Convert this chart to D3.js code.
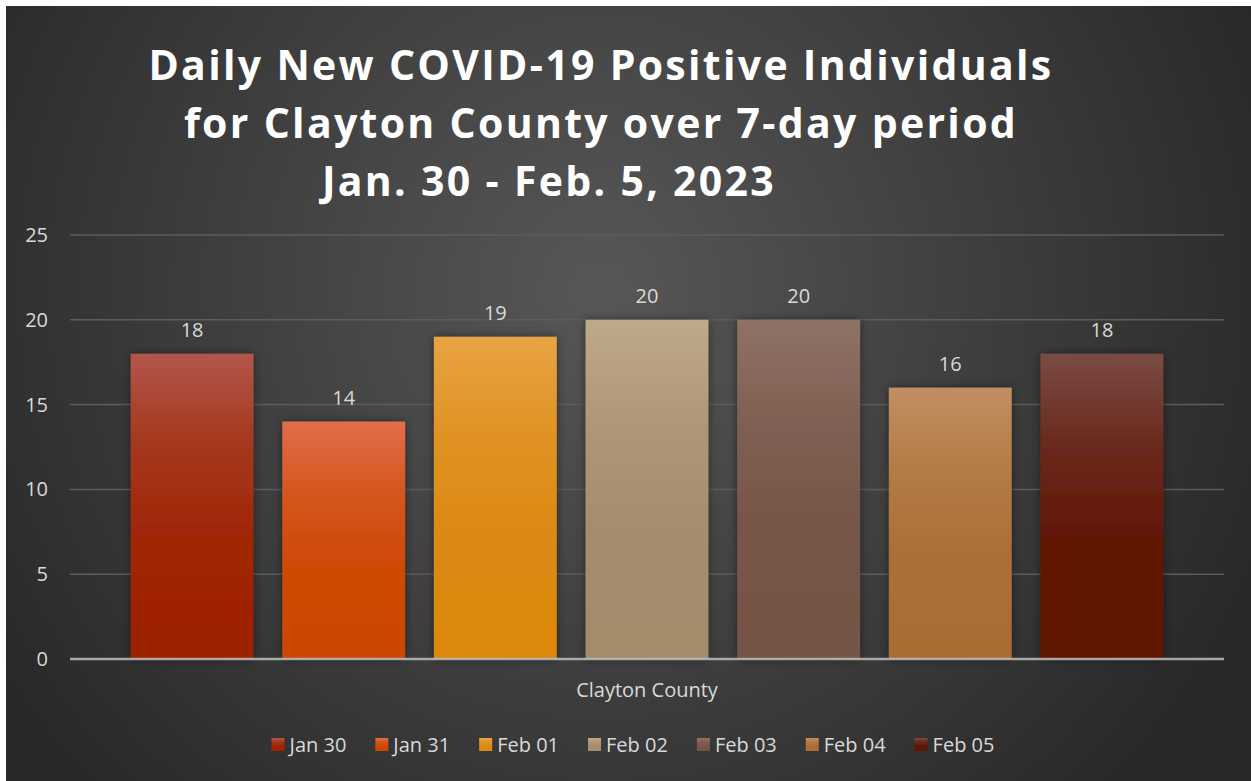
<!DOCTYPE html>
<html>
<head>
<meta charset="utf-8">
<script src="https://cdn.jsdelivr.net/npm/d3@7"></script>
<style>
  html, body { margin: 0; padding: 0; background: #fff; }
  svg { display: block; }
</style>
</head>
<body>
<svg id="chart" width="1251" height="781"></svg>
<script>
const days = ["Jan 30", "Jan 31", "Feb 01", "Feb 02", "Feb 03", "Feb 04", "Feb 05"];
const counts = [18, 14, 19, 20, 20, 16, 18];
const yTicks = [0, 5, 10, 15, 20, 25];
const category = "Clayton County";
const titleLines = ["Daily New COVID-19 Positive Individuals", "for Clayton County over 7-day period", "Jan. 30 - Feb. 5, 2023"];
const barTop = ["#b2564a", "#e16e4a", "#e8a343", "#bfa98b", "#8f7266", "#c18f63", "#7a4b45"];
const barBottom = ["#9d2200", "#cd4600", "#db880f", "#a38c6b", "#755446", "#a96d33", "#5f1300"];

const svg = d3.select("#chart");
const width = +svg.attr("width");
const height = +svg.attr("height");
const font = "'Open Sans', 'Noto Sans', sans-serif";

const defs = svg.append("defs");
const bg = defs.append("radialGradient")
    .attr("id", "bg")
    .attr("gradientUnits", "userSpaceOnUse")
    .attr("cx", 600).attr("cy", 290).attr("r", 720);
bg.append("stop").attr("offset", 0).attr("stop-color", "#575757");
bg.append("stop").attr("offset", 1).attr("stop-color", "#282828");

days.forEach((d, i) => {
    const g = defs.append("linearGradient")
        .attr("id", `bar${i}`)
        .attr("x1", 0).attr("y1", 0).attr("x2", 0).attr("y2", 1);
    g.append("stop").attr("offset", 0).attr("stop-color", barTop[i]);
    g.append("stop").attr("offset", 0.3).attr("stop-color", d3.interpolateRgb(barTop[i], barBottom[i])(0.6));
    g.append("stop").attr("offset", 0.6).attr("stop-color", d3.interpolateRgb(barTop[i], barBottom[i])(0.92));
    g.append("stop").attr("offset", 1).attr("stop-color", barBottom[i]);
});

const shadow = defs.append("filter").attr("id", "shadow")
    .attr("x", "-20%").attr("y", "-10%").attr("width", "140%").attr("height", "120%");
shadow.append("feDropShadow")
    .attr("dx", 0).attr("dy", 0).attr("stdDeviation", 5)
    .attr("flood-color", "#000").attr("flood-opacity", 0.45);

svg.append("rect")
    .attr("x", 6).attr("y", 6)
    .attr("width", width - 6).attr("height", height - 6)
    .attr("fill", "url(#bg)");

// Title
const title = svg.append("g")
    .attr("fill", "#ffffff")
    .attr("font-family", font)
    .attr("font-weight", "bold")
    .attr("font-size", 41)
    .attr("letter-spacing", 2.3)
    .attr("text-anchor", "middle");
const titleX = [601, 601, 549];
const titleY = [80, 138, 196];
titleLines.forEach((t, i) => {
    title.append("text").attr("x", titleX[i]).attr("y", titleY[i]).text(t);
});

// Scales
const plot = { left: 70, right: 1224, top: 235, bottom: 659 };
const x = d3.scaleBand()
    .domain(days)
    .range([plot.left, plot.right])
    .paddingInner(0.19)
    .paddingOuter(0.4);
const y = d3.scaleLinear()
    .domain([0, 25])
    .range([plot.bottom, plot.top]);

// Grid lines
svg.append("g")
    .selectAll("line")
    .data(yTicks.filter(t => t > 0))
    .join("line")
    .attr("x1", plot.left).attr("x2", plot.right)
    .attr("y1", d => y(d)).attr("y2", d => y(d))
    .attr("stroke", "#5c5c5c")
    .attr("stroke-width", 1.5);

// Y axis labels
const yAxis = svg.append("g")
    .attr("transform", `translate(${plot.left - 22},0)`)
    .call(d3.axisLeft(y).tickValues(yTicks).tickSize(0).tickPadding(0));
yAxis.select(".domain").remove();
yAxis.selectAll("text")
    .attr("fill", "#d9d9d9")
    .attr("font-family", font)
    .attr("font-size", 20);

// Bars
svg.append("g")
    .selectAll("rect")
    .data(days)
    .join("rect")
    .attr("x", d => x(d))
    .attr("y", (d, i) => y(counts[i]))
    .attr("width", x.bandwidth())
    .attr("height", (d, i) => y(0) - y(counts[i]))
    .attr("fill", (d, i) => `url(#bar${i})`)
    .attr("filter", "url(#shadow)");

// Axis baseline
svg.append("line")
    .attr("x1", plot.left).attr("x2", plot.right)
    .attr("y1", y(0)).attr("y2", y(0))
    .attr("stroke", "#bdbdbd")
    .attr("stroke-opacity", 0.85)
    .attr("stroke-width", 2.5);

// Data labels
svg.append("g")
    .selectAll("text")
    .data(days)
    .join("text")
    .attr("x", d => x(d) + x.bandwidth() / 2)
    .attr("y", (d, i) => y(counts[i]) - 17)
    .attr("text-anchor", "middle")
    .attr("fill", "#d9d9d9")
    .attr("font-family", font)
    .attr("font-size", 20)
    .text((d, i) => counts[i]);

// Category label
svg.append("text")
    .attr("x", (plot.left + plot.right) / 2)
    .attr("y", 697)
    .attr("text-anchor", "middle")
    .attr("fill", "#d9d9d9")
    .attr("font-family", font)
    .attr("font-size", 20)
    .text(category);

// Legend
const legend = svg.append("g")
    .attr("font-family", font)
    .attr("font-size", 20)
    .attr("fill", "#d9d9d9");
const items = legend.selectAll("g")
    .data(days)
    .join("g");
items.append("rect")
    .attr("y", 738).attr("width", 13).attr("height", 13)
    .attr("fill", (d, i) => `url(#bar${i})`);
items.append("text")
    .attr("x", 18).attr("y", 751.5)
    .text(d => d);

let offset = 0;
const widths = [];
items.each(function() {
    const w = 18 + d3.select(this).select("text").node().getComputedTextLength();
    widths.push(w);
});
const gap = 29;
const total = d3.sum(widths) + gap * (widths.length - 1);
const start = 633 - total / 2;
items.attr("transform", (d, i) => {
    const tx = start + offset;
    offset += widths[i] + gap;
    return `translate(${tx},0)`;
});
</script>
</body>
</html>
